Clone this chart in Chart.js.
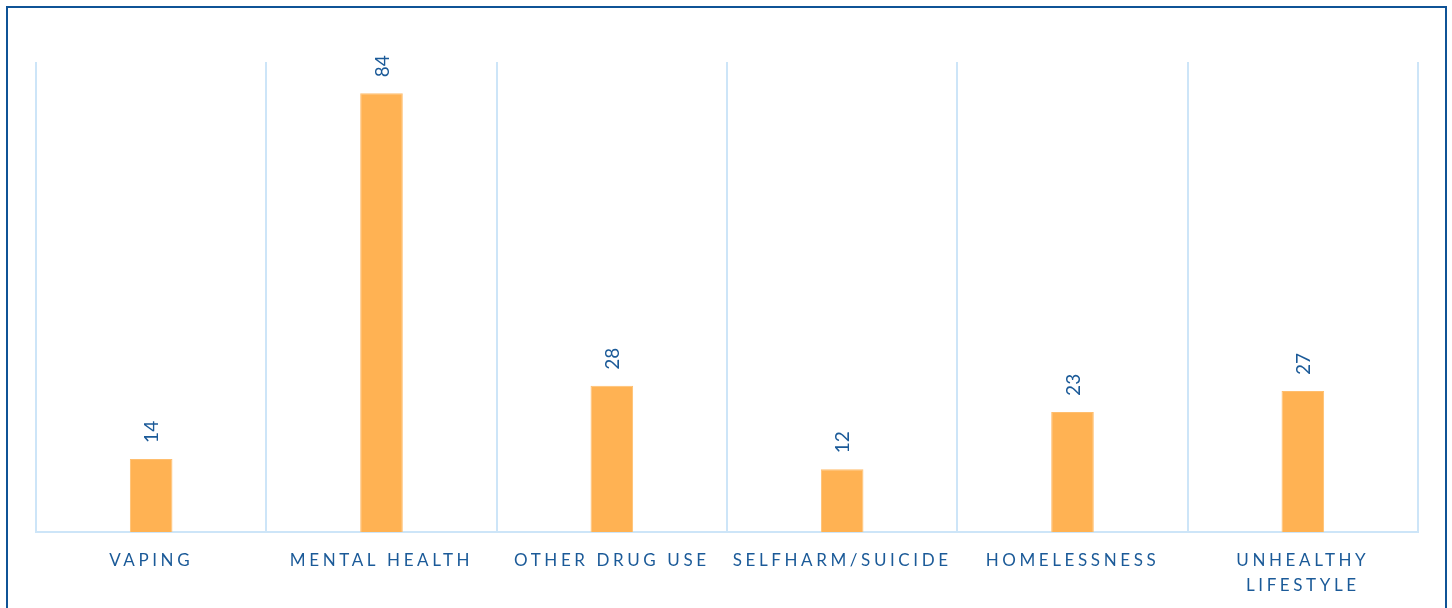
<!DOCTYPE html>
<html>
<head>
<meta charset="utf-8">
<script src="https://cdn.jsdelivr.net/npm/chart.js@4/dist/chart.umd.min.js"></script>
<style>
  html, body { margin: 0; padding: 0; background: #fff; width: 1452px; height: 608px; overflow: hidden; }
  #frame { position: absolute; left: 6px; top: 6px; width: 1441px; height: 620px; border: 2px solid #0F5396; box-sizing: border-box; }
  #wrap { position: absolute; left: 0; top: 0; width: 1452px; height: 608px; }
</style>
</head>
<body>
<div id="frame"></div>
<div id="wrap"><canvas id="c" width="1452" height="608"></canvas></div>
<script>
const categories = ["VAPING", "MENTAL HEALTH", "OTHER DRUG USE", "SELFHARM/SUICIDE", "HOMELESSNESS", ["UNHEALTHY", "LIFESTYLE"]];
const values = [14, 84, 28, 12, 23, 27];
const yMax = 90;

const textBlue = "#1B5A98";

const spacingPlugin = {
  id: "spacing",
  beforeDraw(chart) { chart.ctx.letterSpacing = "3.6px"; },
  beforeDatasetsDraw(chart) { chart.ctx.letterSpacing = "0px"; }
};

const valueLabels = {
  id: "valueLabels",
  afterDatasetsDraw(chart) {
    const ctx = chart.ctx;
    const meta = chart.getDatasetMeta(0);
    ctx.save();
    ctx.letterSpacing = "0px";
    ctx.fillStyle = textBlue;
    ctx.font = "19px Lato";
    ctx.textAlign = "left";
    ctx.textBaseline = "middle";
    meta.data.forEach((bar, i) => {
      ctx.save();
      ctx.translate(bar.x + 1, bar.y - 16);
      ctx.rotate(-Math.PI / 2);
      ctx.fillText(String(values[i]), 0, 0);
      ctx.restore();
    });
    ctx.restore();
  }
};

new Chart(document.getElementById("c"), {
  type: "bar",
  data: {
    labels: categories,
    datasets: [{
      data: values,
      backgroundColor: "#FFB253",
      borderColor: "#FFBE6E",
      borderWidth: 1,
      categoryPercentage: 1,
      barPercentage: 0.185
    }]
  },
  options: {
    responsive: false,
    animation: false,
    devicePixelRatio: 1,
    layout: { padding: { left: 36, right: 34, top: 62, bottom: 0 } },
    plugins: { legend: { display: false }, tooltip: { enabled: false } },
    scales: {
      x: {
        grid: { color: "#CDE5F8", lineWidth: 2, drawTicks: false, offset: true },
        border: { color: "#CDE5F8", width: 2 },
        ticks: {
          color: textBlue,
          font: { family: "Lato", size: 17, lineHeight: 1.47 },
          padding: 16,
          maxRotation: 0,
          autoSkip: false
        },
        afterFit(s) { s.height = 76; }
      },
      y: {
        display: false,
        min: 0,
        max: yMax
      }
    }
  },
  plugins: [spacingPlugin, valueLabels]
});
</script>
</body>
</html>
